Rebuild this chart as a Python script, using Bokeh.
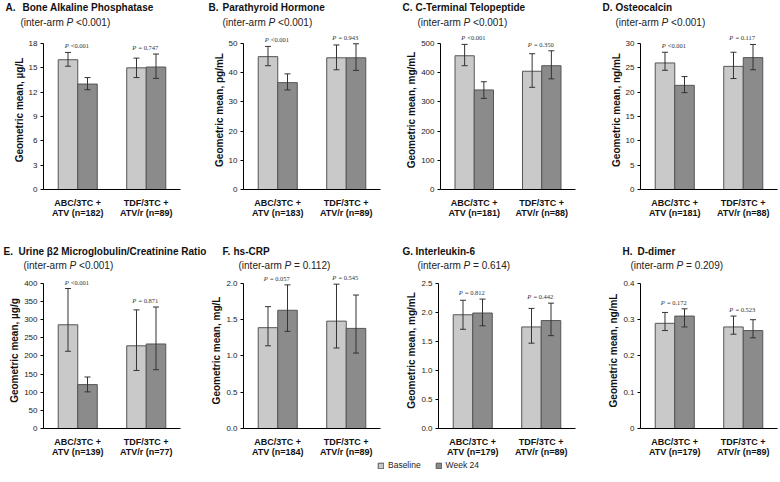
import math
from bokeh.plotting import figure
from bokeh.models import (Range1d, FixedTicker, ColumnDataSource, Whisker, TeeHead,
                          Label, LabelSet, Legend, LegendItem)
from bokeh.layouts import column, row
from bokeh.embed import file_html
from bokeh.resources import INLINE

# ---------------- data ----------------
panel_letters = ["A.", "B.", "C.", "D.", "E.", "F.", "G.", "H."]
panel_titles = ["Bone Alkaline Phosphatase", "Parathyroid Hormone", "C-Terminal Telopeptide",
                "Osteocalcin", "Urine \u03b22 Microglobulin/Creatinine Ratio", "hs-CRP",
                "Interleukin-6", "D-dimer"]
units = ["\u00b5g/L", "pg/mL", "mg/mL", "ng/mL", "\u00b5g/g", "mg/L", "mg/mL", "ng/mL"]
inter_arm_p = ["<0.001", "<0.001", "<0.001", "<0.001", "<0.001", "= 0.112", "= 0.614", "= 0.209"]
arm_line1 = ["ABC/3TC +", "TDF/3TC +"]
arm_line2 = ["ATV", "ATV/r"]
arm_n = [[182, 89], [183, 89], [181, 88], [181, 88], [139, 77], [184, 89], [179, 89], [179, 89]]
series_names = ["Baseline", "Week 24"]

baseline = [[16.0, 15.0], [45.5, 45.1], [458, 405], [26.0, 25.3],
            [286, 228], [1.39, 1.48], [1.96, 1.75], [0.29, 0.28]]
baseline_lo = [[15.2, 13.8], [42.4, 41.0], [424, 350], [24.5, 22.8],
               [213, 160], [1.14, 1.11], [1.71, 1.47], [0.27, 0.26]]
baseline_hi = [[16.9, 16.2], [49.0, 49.5], [497, 465], [28.2, 28.2],
               [386, 327], [1.68, 1.99], [2.21, 2.07], [0.32, 0.31]]
week24 = [[13.0, 15.1], [36.6, 45.1], [341, 424], [21.4, 27.1],
          [121, 233], [1.63, 1.38], [1.99, 1.86], [0.31, 0.27]]
week24_lo = [[12.3, 13.7], [34.1, 40.8], [312, 379], [19.9, 24.6],
             [101, 162], [1.34, 1.04], [1.77, 1.60], [0.28, 0.25]]
week24_hi = [[13.8, 16.7], [39.6, 49.9], [369, 475], [23.2, 29.8],
             [142, 335], [1.98, 1.84], [2.23, 2.16], [0.33, 0.30]]
within_p = [["<0.001", "= 0.747"], ["<0.001", "= 0.943"], ["<0.001", "= 0.350"],
            ["<0.001", "= 0.117"], ["<0.001", "= 0.871"], ["= 0.057", "= 0.545"],
            ["= 0.812", "= 0.442"], ["= 0.172", "= 0.523"]]
y_max = [18, 50, 500, 30, 400, 2.0, 2.5, 0.4]
y_ticks = [[0, 3, 6, 9, 12, 15, 18], [0, 10, 20, 30, 40, 50], [0, 100, 200, 300, 400, 500],
           [0, 5, 10, 15, 20, 25, 30], [0, 50, 100, 150, 200, 250, 300, 350, 400],
           [0, 0.5, 1.0, 1.5, 2.0], [0, 0.5, 1.0, 1.5, 2.0, 2.5], [0, 0.1, 0.2, 0.3, 0.4]]
y_tick_labels = [["0", "3", "6", "9", "12", "15", "18"], ["0", "10", "20", "30", "40", "50"],
                 ["0", "100", "200", "300", "400", "500"], ["0", "5", "10", "15", "20", "25", "30"],
                 ["0", "50", "100", "150", "200", "250", "300", "350", "400"],
                 ["0.0", "0.5", "1.0", "1.5", "2.0"], ["0.0", "0.5", "1.0", "1.5", "2.0", "2.5"],
                 ["0", "0.1", "0.2", "0.3", "0.4"]]

# ---------------- style / layout ----------------
FONT = "Liberation Sans"
C_BASE = "#c9c9c9"
C_WK24 = "#8b8b8b"
C_EDGE = "#555555"
C_ERR = "#333333"
PAGE_W = 780
FIG_W = [208, 195, 196, 181]
BORDER_L = [43, 35, 35, 41]
FRAME_W = 137
AXIS_H = 146                 # pixel height of the 0..max axis
FRAME_H = [159, 157]         # frame height per row (axis + headroom for P labels)
BOTTOM = [55, 31]
TITLE_H = [30, 28]
LETTER_PX = [5, 208, 402, 602, 3, 222, 402, 622]
NAME_PX = [22, 222, 415, 615, 18, 233, 415, 637]
SUB_PX = [20, 222, 417, 615, 23, 238, 417, 630]
TITLE_Y = [23, 21]           # from bottom of title strip
SUB_Y = [8, 7.5]

HELV = {' ': 278, '(': 333, ')': 333, '-': 333, '.': 278, '<': 584, '=': 584, 'P': 667,
        'a': 556, 'e': 556, 'i': 222, 'm': 833, 'n': 556, 'r': 333, 't': 278}
for d in "0123456789":
    HELV[d] = 556


def tw(s, size):
    return sum(HELV.get(c, 556) for c in s) * size / 1000.0


def blank_fig(w, h):
    f = figure(width=w, height=h, output_backend="svg", toolbar_location=None,
               x_range=Range1d(0, w), y_range=Range1d(0, h), min_border=0,
               x_axis_location=None, y_axis_location=None)
    f.outline_line_color = None
    f.grid.visible = False
    return f


def make_panel(i, col, rw):
    W = FIG_W[col]
    L = BORDER_L[col]
    R = W - L - FRAME_W
    H = FRAME_H[rw] + BOTTOM[rw]
    y_end = y_max[i] * FRAME_H[rw] / AXIS_H
    p = figure(width=W, height=H, output_backend="svg", toolbar_location=None,
               x_range=Range1d(0, 2), y_range=Range1d(0, y_end),
               min_border_left=L, min_border_right=R, min_border_top=0,
               min_border_bottom=BOTTOM[rw])
    p.outline_line_color = None
    p.grid.visible = False
    p.background_fill_color = "white"
    p.border_fill_color = "white"

    centers = [0.5, 1.5]
    off = 0.1425
    bw = 0.285
    for vals, lo, hi, sgn, colr in [(baseline[i], baseline_lo[i], baseline_hi[i], -1, C_BASE),
                                   (week24[i], week24_lo[i], week24_hi[i], 1, C_WK24)]:
        src = ColumnDataSource(dict(x=[c + sgn * off for c in centers], top=vals, lo=lo, hi=hi))
        p.vbar(x="x", top="top", bottom=0, width=bw, source=src, fill_color=colr,
               line_color=C_EDGE, line_width=1)
        w = Whisker(source=src, base="x", upper="hi", lower="lo", dimension="height",
                    line_color=C_ERR, line_width=1, level="overlay",
                    upper_head=TeeHead(size=6, line_color=C_ERR, line_width=1),
                    lower_head=TeeHead(size=6, line_color=C_ERR, line_width=1))
        p.add_layout(w)

    # within-arm P labels (italic P + value)
    fs = 6.5
    tops = [max(baseline_hi[i][k], week24_hi[i][k]) for k in range(2)]
    rests = within_p[i]
    wp = tw("P ", fs)
    totals = [wp + tw(r, fs) for r in rests]
    psrc = ColumnDataSource(dict(x=centers, y=tops, p=["P", "P"], rest=rests,
                                 xo_p=[-t / 2 for t in totals],
                                 xo_r=[-t / 2 + wp for t in totals]))
    p.add_layout(LabelSet(x="x", y="y", text="p", source=psrc, x_offset="xo_p", y_offset=6.5,
                          text_font=FONT, text_font_size=f"{fs}px", text_font_style="italic",
                          text_color="#333333", text_baseline="middle", text_align="left"))
    p.add_layout(LabelSet(x="x", y="y", text="rest", source=psrc, x_offset="xo_r", y_offset=6.5,
                          text_font=FONT, text_font_size=f"{fs}px",
                          text_color="#333333", text_baseline="middle", text_align="left"))

    # x axis
    xa = p.xaxis[0]
    xa.ticker = FixedTicker(ticks=centers)
    xa.major_label_overrides = {centers[k]: f"{arm_line1[k]}\n{arm_line2[k]} (n={arm_n[i][k]})"
                                for k in range(2)}
    xa.major_tick_line_color = None
    xa.major_tick_out = 0
    xa.major_tick_in = 0
    xa.minor_tick_line_color = None
    xa.axis_line_color = "#000000"
    xa.axis_line_width = 1
    xa.major_label_text_font = FONT
    xa.major_label_text_font_size = "9px"
    xa.major_label_text_font_style = "bold"
    xa.major_label_text_color = "#111111"
    xa.major_label_text_line_height = 1.05
    xa.major_label_standoff = 8

    # y axis
    ya = p.yaxis[0]
    ya.bounds = (0, y_max[i])
    ya.ticker = FixedTicker(ticks=y_ticks[i])
    ya.major_label_overrides = {t: l for t, l in zip(y_ticks[i], y_tick_labels[i])}
    ya.major_tick_out = 3
    ya.major_tick_in = 0
    ya.minor_tick_line_color = None
    ya.axis_line_color = "#000000"
    ya.major_tick_line_color = "#000000"
    ya.axis_line_width = 1
    ya.major_label_text_font = FONT
    ya.major_label_text_font_size = "8px"
    ya.major_label_text_color = "#222222"
    ya.major_label_standoff = 3
    ya.axis_label = f"Geometric mean, {units[i]}"
    ya.axis_label_text_font = FONT
    ya.axis_label_text_font_size = "10px"
    ya.axis_label_text_font_style = "bold"
    ya.axis_label_text_color = "#111111"
    ya.axis_label_standoff = 1
    return p


def title_strip(rw):
    f = blank_fig(PAGE_W, TITLE_H[rw])
    sfs = 10
    for c in range(4):
        i = rw * 4 + c
        for txt, xx in [(panel_letters[i], LETTER_PX[i]), (panel_titles[i], NAME_PX[i])]:
            f.add_layout(Label(x=xx, y=TITLE_Y[rw], x_units="screen", y_units="screen",
                               text=txt, text_font=FONT, text_font_size="10px",
                               text_font_style="bold", text_color="#111111",
                               text_align="left", text_baseline="middle"))
        x0 = SUB_PX[i]
        pre = "(inter-arm"
        x1 = x0 + tw(pre + " ", sfs)
        x2 = x1 + tw("P ", sfs)
        for txt, xx, style in [(pre, x0, "normal"), ("P", x1, "italic"),
                               (inter_arm_p[i] + ")", x2, "normal")]:
            f.add_layout(Label(x=xx, y=SUB_Y[rw], x_units="screen", y_units="screen",
                               text=txt, text_font=FONT, text_font_size=f"{sfs}px",
                               text_font_style=style, text_color="#222222",
                               text_align="left", text_baseline="middle"))
    return f


parts = []
for rw in range(2):
    parts.append(title_strip(rw))
    parts.append(row(*[make_panel(rw * 4 + c, c, rw) for c in range(4)]))

# legend strip
lf = blank_fig(PAGE_W, 20)
r1 = lf.vbar(x=[0], top=[0], width=1, fill_color=C_BASE, line_color=C_EDGE, visible=False)
r2 = lf.vbar(x=[0], top=[0], width=1, fill_color=C_WK24, line_color=C_EDGE, visible=False)
leg = Legend(items=[LegendItem(label=series_names[0], renderers=[r1]),
                    LegendItem(label=series_names[1], renderers=[r2])],
             orientation="horizontal", location=(377, 10), glyph_width=7, glyph_height=7,
             label_standoff=4, spacing=14, padding=0, margin=0, border_line_color=None,
             background_fill_alpha=0, label_text_font=FONT, label_text_font_size="8.5px",
             label_text_color="#222222", label_height=8, label_width=0,
             label_text_baseline="middle")
lf.add_layout(leg)
parts.append(lf)

layout = column(*parts)
open("out.html", "w").write(file_html(layout, INLINE))
